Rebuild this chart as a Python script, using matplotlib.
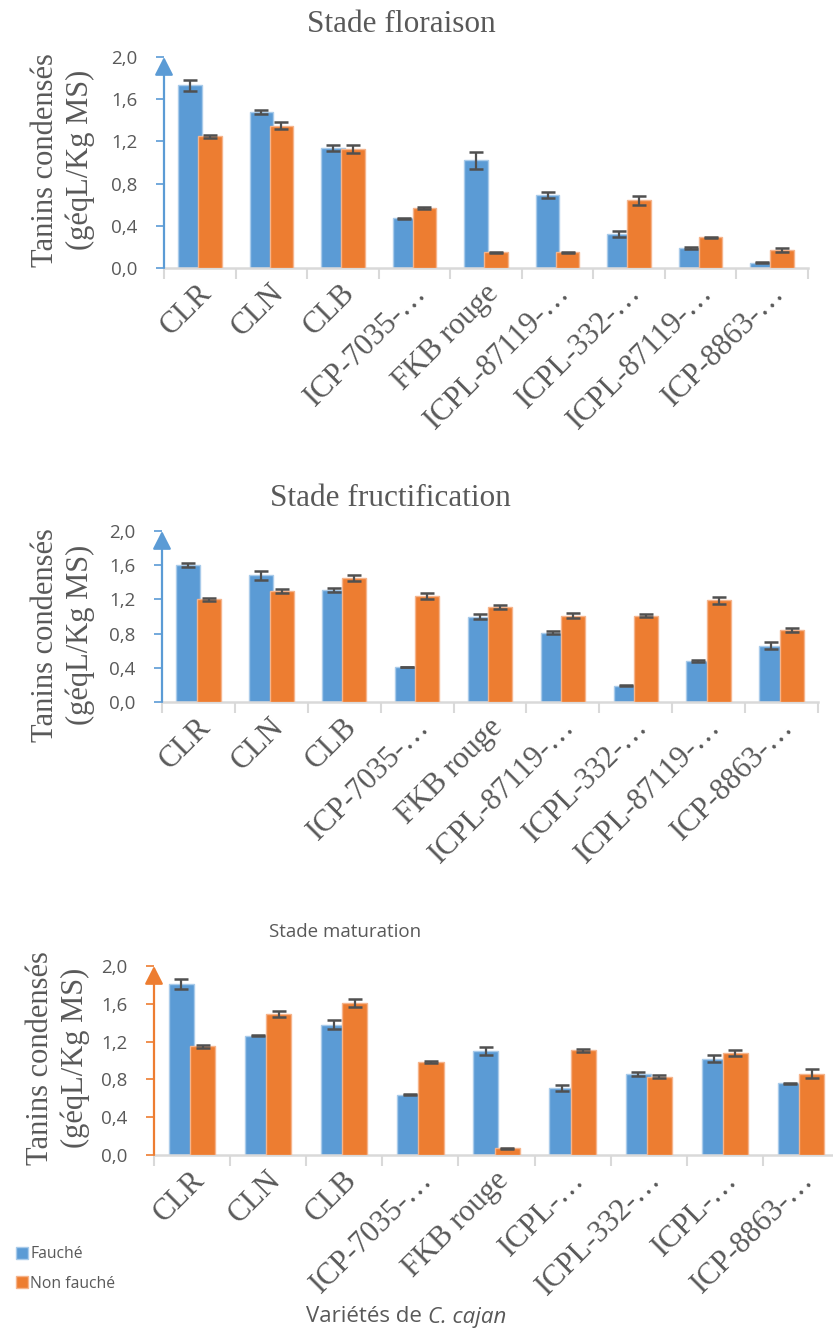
import numpy as np
import matplotlib
matplotlib.use("Agg")
import matplotlib.pyplot as plt
import matplotlib.transforms as mtransforms

# tanins condensés (géqL/Kg MS), fauché vs non fauché, per stade
cats = ["CLR", "CLN", "CLB", "ICP-7035-…", "FKB rouge", "ICPL-87119-…",
        "ICPL-332-…", "ICPL-87119-…", "ICP-8863-…"]
cats_mat = ["CLR", "CLN", "CLB", "ICP-7035-…", "FKB rouge", "ICPL-…",
            "ICPL-332-…", "ICPL-…", "ICP-8863-…"]

flo_fauche = [1.73, 1.48, 1.14, 0.47, 1.02, 0.69, 0.32, 0.19, 0.05]
flo_fauche_err = [0.05, 0.02, 0.03, 0.005, 0.08, 0.03, 0.03, 0.01, 0.005]
flo_non = [1.25, 1.35, 1.13, 0.57, 0.15, 0.15, 0.64, 0.29, 0.17]
flo_non_err = [0.015, 0.03, 0.04, 0.01, 0.005, 0.005, 0.04, 0.005, 0.015]

fru_fauche = [1.60, 1.48, 1.31, 0.41, 1.00, 0.81, 0.19, 0.48, 0.66]
fru_fauche_err = [0.02, 0.055, 0.025, 0.005, 0.035, 0.02, 0.005, 0.01, 0.04]
fru_non = [1.20, 1.30, 1.45, 1.24, 1.11, 1.01, 1.01, 1.19, 0.84]
fru_non_err = [0.015, 0.02, 0.04, 0.04, 0.02, 0.03, 0.015, 0.04, 0.02]

mat_fauche = [1.81, 1.26, 1.38, 0.64, 1.10, 0.71, 0.86, 1.02, 0.76]
mat_fauche_err = [0.05, 0.005, 0.045, 0.005, 0.04, 0.035, 0.02, 0.04, 0.005]
mat_non = [1.15, 1.49, 1.61, 0.98, 0.07, 1.11, 0.83, 1.08, 0.86]
mat_non_err = [0.015, 0.03, 0.04, 0.01, 0.005, 0.015, 0.02, 0.03, 0.045]

yticks = [0.0, 0.4, 0.8, 1.2, 1.6, 2.0]

BLUE = "#5B9BD5"
ORANGE = "#ED7D31"
GREY = "#595959"
LIGHT = "#D9D9D9"
SERIF = "Liberation Serif"
SANS = "Open Sans"

W, H = 833, 1342
fig = plt.figure(figsize=(W / 100, H / 100), dpi=100)


def px_axes(left, right, y0, y2):
    # pixel box -> figure fraction
    return fig.add_axes([left / W, 1 - y0 / H, (right - left) / W, (y0 - y2) / H])


def panel(ax, labels, fa, fa_err, no, no_err, axcol):
    x = np.arange(len(labels))
    w, off = 0.33, 0.14
    b1 = ax.bar(x - off, fa, w, color=BLUE, edgecolor="#A9CBEA", linewidth=1, zorder=2)
    b2 = ax.bar(x + off, no, w, color=ORANGE, edgecolor="#F5B48C", linewidth=1, zorder=3)
    ek = dict(fmt="none", ecolor="#505050", elinewidth=1.6, capsize=5, capthick=1.8, zorder=4)
    ax.errorbar(x - off, fa, yerr=fa_err, **ek)
    ax.errorbar(x + off, no, yerr=no_err, **ek)

    ax.set_xlim(-0.5, len(labels) - 0.5)
    ax.set_ylim(0, 2.0)
    ax.set_yticks(yticks)
    ax.set_yticklabels([f"{v:.1f}".replace(".", ",") for v in yticks],
                       fontsize=13.5, family=SANS, color=GREY)
    ax.tick_params(axis="y", direction="out", length=6, width=1.2, color=axcol, pad=13)

    ax.set_xticks(x)
    ax.set_xticklabels(labels, rotation=45, ha="right", va="center",
                       rotation_mode="anchor", fontsize=22, family=SERIF, color=GREY)
    ax.tick_params(axis="x", length=0, pad=15)
    shift = mtransforms.ScaledTranslation(8 / 100, 0, fig.dpi_scale_trans)
    for lab in ax.get_xticklabels():
        lab.set_transform(lab.get_transform() + shift)
    ax.set_xticks(np.arange(-0.5, len(labels)), minor=True)
    ax.tick_params(axis="x", which="minor", direction="out", length=8, width=1.5, color=LIGHT)

    for s in ["top", "right", "left"]:
        ax.spines[s].set_visible(False)
    ax.spines["bottom"].set_color(LIGHT)
    ax.spines["bottom"].set_linewidth(1.8)

    # y axis drawn as an arrow
    ax.annotate("", xy=(0, 1.0), xytext=(0, 0), xycoords="axes fraction",
                arrowprops=dict(arrowstyle="-|>,head_length=0.55,head_width=0.28",
                                color=axcol, lw=1.6, mutation_scale=20,
                                shrinkA=0, shrinkB=0), annotation_clip=False)
    return b1, b2


ax1 = px_axes(164, 808, 268, 57)
panel(ax1, cats, flo_fauche, flo_fauche_err, flo_non, flo_non_err, BLUE)

ax2 = px_axes(162, 818, 702, 531)
panel(ax2, cats, fru_fauche, fru_fauche_err, fru_non, fru_non_err, BLUE)

ax3 = px_axes(154, 839, 1155, 966)
b1, b2 = panel(ax3, cats_mat, mat_fauche, mat_fauche_err, mat_non, mat_non_err, ORANGE)

# titles
fig.text(401 / W, 1 - 24 / H, "Stade floraison", ha="center", va="center",
         fontsize=22.5, family=SERIF, color=GREY)
fig.text(390 / W, 1 - 498 / H, "Stade fructification", ha="center", va="center",
         fontsize=22.5, family=SERIF, color=GREY)
fig.text(345 / W, 1 - 932 / H, "Stade maturation", ha="center", va="center",
         fontsize=13.5, family=SANS, color=GREY)

# y labels
ylab = "Tanins condensés\n(géqL/Kg MS)"
for xc, yc in [(63, 160), (63, 635), (58, 1058)]:
    fig.text(xc / W, 1 - yc / H, ylab, rotation=90, ha="center", va="center",
             multialignment="center", linespacing=1.25,
             fontsize=22, family=SERIF, color=GREY)

# x label
fig.text(422 / W, 1 - 1317 / H, "Variétés de", ha="right", va="center",
         fontsize=16, family=SANS, color=GREY)
fig.text(428 / W, 1 - 1317 / H, "C. cajan", ha="left", va="center",
         fontsize=16, family=SANS, style="italic", color=GREY)

fig.legend([b1, b2], ["Fauché", "Non fauché"], loc="upper left",
           bbox_to_anchor=(0.012, 1 - 1240 / H), frameon=False,
           prop=dict(family=SANS, size=11.3), labelcolor=GREY,
           handlelength=0.75, handleheight=0.85, handletextpad=0.15,
           labelspacing=0.85, borderaxespad=0)

fig.savefig("out.png", dpi=100)
